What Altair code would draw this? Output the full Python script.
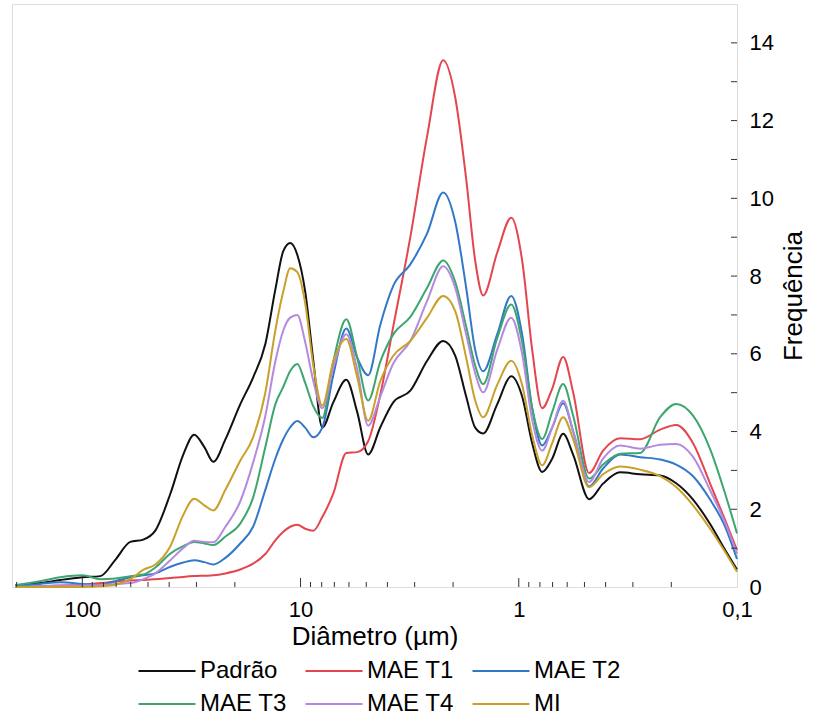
import altair as alt
import pandas as pd

# Diameter (µm) sample positions
diam = [203, 156, 126, 100, 82.7, 70.6, 60.3, 52.6, 46.3, 39.5,
        34.5, 30.7, 27.6, 25.1, 22.1, 18.9, 16.5, 14.5, 13.05, 12.0,
        11.15, 10.35, 9.52, 8.74, 7.95, 7.08, 6.17, 5.50, 4.90, 4.31,
        3.76, 3.14, 2.63, 2.22, 1.956, 1.742, 1.584, 1.456, 1.256, 1.083,
        0.965, 0.868, 0.781, 0.703, 0.626, 0.563, 0.476, 0.411, 0.343, 0.278,
        0.225, 0.190, 0.159, 0.1328, 0.1133, 0.1]

padrao = [0.04, 0.1, 0.18, 0.25, 0.28, 0.7, 1.16, 1.22, 1.45, 2.4,
          3.4, 3.92, 3.6, 3.22, 3.8, 4.7, 5.39, 6.25, 7.65, 8.64,
          8.85, 8.55, 7.6, 5.82, 4.1, 4.75, 5.33, 4.5, 3.41, 4.11,
          4.75, 5.05, 5.82, 6.33, 5.95, 4.9, 4.1, 3.95, 4.7, 5.42,
          4.9, 3.7, 2.96, 3.3, 3.94, 3.4, 2.26, 2.66, 2.95, 2.9,
          2.87, 2.67, 2.25, 1.62, 0.95, 0.45]
mae_t1 = [0.0, 0.02, 0.04, 0.06, 0.1, 0.14, 0.17, 0.18, 0.2, 0.23,
          0.26, 0.28, 0.29, 0.3, 0.35, 0.45, 0.6, 0.85, 1.2, 1.42,
          1.55, 1.6, 1.5, 1.45, 1.8, 2.4, 3.45, 3.47, 3.75, 4.95,
          6.7, 9.0, 11.6, 13.55, 12.6, 10.5, 8.4, 7.5, 8.6, 9.5,
          8.4, 6.1, 4.6, 5.1, 5.92, 5.0, 2.93, 3.51, 3.83, 3.8,
          4.05, 4.17, 3.7, 2.66, 1.72, 0.95]
mae_t2 = [0.02, 0.08, 0.12, 0.08, 0.05, 0.15, 0.25, 0.3, 0.35, 0.52,
          0.63, 0.69, 0.64, 0.58, 0.75, 1.12, 1.55, 2.5, 3.3, 3.8,
          4.11, 4.27, 4.1, 3.85, 4.1, 5.45, 6.65, 5.9, 5.45, 6.75,
          7.75, 8.3, 9.1, 10.15, 9.4, 7.7, 6.1, 5.55, 6.5, 7.49,
          6.5, 4.6, 3.64, 4.1, 4.73, 4.0, 2.59, 3.05, 3.41, 3.34,
          3.28, 3.15, 2.85, 2.25, 1.55, 0.72]
mae_t3 = [0.05, 0.15, 0.25, 0.3, 0.2, 0.22, 0.28, 0.32, 0.5, 0.86,
          1.05, 1.16, 1.12, 1.08, 1.3, 1.63, 2.3, 3.6, 4.7, 5.15,
          5.56, 5.74, 5.25, 4.65, 4.35, 5.8, 6.89, 5.9, 4.8, 5.8,
          6.5, 6.95, 7.7, 8.4, 7.85, 6.7, 5.7, 5.22, 6.4, 7.27,
          6.3, 4.6, 3.81, 4.5, 5.22, 4.4, 2.79, 3.15, 3.43, 3.45,
          4.37, 4.71, 4.41, 3.55, 2.4, 1.38]
mae_t4 = [0.0, 0.02, 0.03, 0.04, 0.05, 0.08, 0.1, 0.2, 0.35, 0.69,
          1.0, 1.19, 1.16, 1.15, 1.55, 2.2, 3.2, 4.4, 5.8, 6.6,
          6.93, 7.0, 6.3, 5.3, 4.6, 5.65, 6.5, 5.6, 4.15, 4.9,
          5.75, 6.33, 7.36, 8.25, 7.7, 6.5, 5.5, 5.01, 6.1, 6.93,
          6.0, 4.3, 3.51, 4.1, 4.79, 4.0, 2.7, 3.3, 3.64, 3.56,
          3.66, 3.68, 3.35, 2.49, 1.65, 0.86]
mi = [0.0, 0.0, 0.0, 0.0, 0.02, 0.06, 0.2, 0.44, 0.58, 1.05,
      1.85, 2.27, 2.1, 1.97, 2.5, 3.25, 3.85, 5.0, 6.6, 7.6,
      8.2, 8.1, 7.3, 5.7, 4.67, 5.8, 6.38, 5.4, 4.28, 5.3,
      5.95, 6.33, 6.93, 7.49, 7.1, 5.9, 4.8, 4.37, 5.2, 5.82,
      5.2, 3.9, 3.13, 3.7, 4.37, 3.8, 2.57, 2.9, 3.1, 3.02,
      2.85, 2.57, 2.1, 1.5, 0.9, 0.39]

series_names = ["Padrão", "MAE T1", "MAE T2", "MAE T3", "MAE T4", "MI"]
series_values = [padrao, mae_t1, mae_t2, mae_t3, mae_t4, mi]
series_colors = ["#111111", "#e3464f", "#3278c8", "#3ca66e", "#b48ae0", "#c9a02a"]

x_label_values = [100, 10, 1, 0.1]
y_label_values = [0, 2, 4, 6, 8, 10, 12, 14]
y_tick_values = list(range(1, 15))
x_major_ticks = [100, 10, 1]
x_minor_ticks = [200, 90, 80, 70, 60, 50, 40, 30, 20,
                 9, 8, 7, 6, 5, 4, 3, 2,
                 0.9, 0.8, 0.7, 0.6, 0.5, 0.4, 0.3, 0.2]

rows = []
for name, vals in zip(series_names, series_values):
    for d, f in zip(diam, vals):
        rows.append({"d": d, "f": f, "s": name})
df = pd.DataFrame(rows)

W, H = 725, 583
FONT = "Liberation Sans"

xs = alt.Scale(type="log", domain=[0.1, 210], reverse=True, nice=False)
ys = alt.Scale(domain=[0, 15], nice=False)

lines = alt.Chart(df).mark_line(strokeWidth=2, interpolate="monotone").encode(
    x=alt.X("d:Q", scale=xs, title="Diâmetro (µm)",
            axis=alt.Axis(values=x_label_values, ticks=False, domain=False, grid=False,
                          labelExpr="replace(format(datum.value, '~g'), '.', ',')",
                          labelFontSize=22, titleFontSize=26, labelFont=FONT, titleFont=FONT,
                          labelColor="#000", titleColor="#000", labelFlush=False,
                          labelPadding=12, titlePadding=3, titleFontWeight="normal")),
    y=alt.Y("f:Q", scale=ys, title="Frequência",
            axis=alt.Axis(orient="right", values=y_label_values, ticks=False, domain=False,
                          grid=False, labelFontSize=22, titleFontSize=26, labelFont=FONT,
                          titleFont=FONT, labelColor="#000", titleColor="#000",
                          labelFlush=False, labelPadding=12, titleAngle=270,
                          titleBaseline="top", titlePadding=7, titleFontWeight="normal")),
    color=alt.Color("s:N", scale=alt.Scale(domain=series_names, range=series_colors),
                    legend=alt.Legend(orient="none", legendX=124, legendY=655,
                                      direction="horizontal", columns=3, title=None,
                                      symbolType="M-3,0H3", symbolSize=361,
                                      symbolStrokeWidth=2, symbolOffset=19,
                                      labelOffset=21, labelFontSize=24, labelFont=FONT,
                                      labelColor="#000", columnPadding=14, rowPadding=9,
                                      padding=0)),
    order=alt.Order("d:Q", sort="descending"),
)

ytick_df = pd.DataFrame({"f": y_tick_values})
yticks = alt.Chart(ytick_df).mark_rule(color="#333", strokeWidth=1).encode(
    y=alt.Y("f:Q", scale=ys), x=alt.value(W - 6), x2=alt.value(W))

xmaj_df = pd.DataFrame({"d": x_major_ticks})
xmaj = alt.Chart(xmaj_df).mark_rule(color="#333", strokeWidth=1).encode(
    x=alt.X("d:Q", scale=xs), y=alt.value(H), y2=alt.value(H - 9))

xmin_df = pd.DataFrame({"d": x_minor_ticks})
xmin = alt.Chart(xmin_df).mark_rule(color="#333", strokeWidth=1).encode(
    x=alt.X("d:Q", scale=xs), y=alt.value(H), y2=alt.value(H - 5))

chart = alt.layer(lines, yticks, xmaj, xmin).properties(
    width=W, height=H,
    autosize=alt.AutoSizeParams(type="none"),
    padding={"left": 12, "top": 4, "right": 77, "bottom": 130},
).configure_view(stroke="#333", strokeWidth=1.5).configure(background="white")

chart.save("out.html", embed_options={"renderer": "svg", "actions": False})
